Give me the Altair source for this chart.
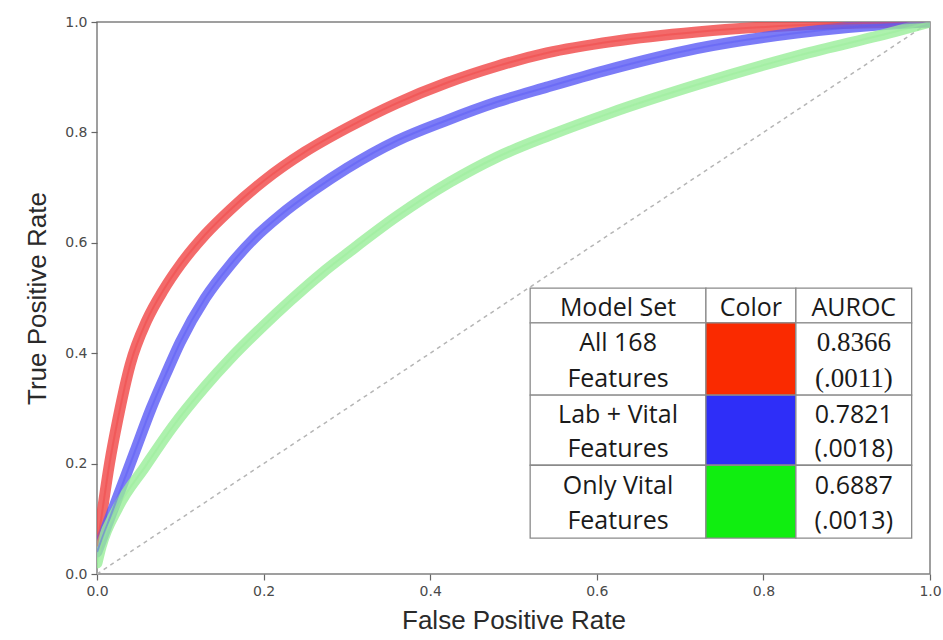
import altair as alt
import pandas as pd

# ---------------- data ----------------
models = ["All 168 Features", "Lab + Vital Features", "Only Vital Features"]
model_lines = [["All 168", "Features"], ["Lab + Vital", "Features"], ["Only Vital", "Features"]]
auroc = ["0.8366", "0.7821", "0.6887"]
auroc_sd = ["(.0011)", "(.0018)", "(.0013)"]

red_fpr = [0, 0.005, 0.015, 0.025, 0.04, 0.06, 0.08, 0.10, 0.13, 0.16, 0.20, 0.25, 0.30,
           0.36, 0.42, 0.48, 0.54, 0.62, 0.72, 0.84, 0.92, 1.0]
red_tpr = [0.05, 0.10, 0.20, 0.28, 0.38, 0.46, 0.515, 0.56, 0.615, 0.66, 0.712, 0.765, 0.808,
           0.853, 0.89, 0.92, 0.944, 0.965, 0.982, 0.994, 0.998, 1.0]

blue_fpr = [0, 0.01, 0.025, 0.045, 0.065, 0.085, 0.10, 0.13, 0.16, 0.19, 0.22, 0.26, 0.30,
            0.36, 0.42, 0.48, 0.54, 0.61, 0.72, 0.84, 0.95, 1.0]
blue_tpr = [0.04, 0.08, 0.14, 0.22, 0.30, 0.37, 0.42, 0.50, 0.56, 0.61, 0.65, 0.695, 0.735,
            0.785, 0.822, 0.855, 0.882, 0.912, 0.952, 0.980, 0.996, 1.0]

green_fpr = [0, 0.005, 0.025, 0.058, 0.09, 0.13, 0.16, 0.20, 0.232, 0.27, 0.304, 0.36,
             0.424, 0.48, 0.544, 0.616, 0.724, 0.844, 0.964, 1.0]
green_tpr = [0.02, 0.05, 0.12, 0.195, 0.265, 0.34, 0.39, 0.45, 0.495, 0.545, 0.585, 0.648,
             0.71, 0.755, 0.795, 0.835, 0.888, 0.94, 0.985, 1.0]

chance = [0.0, 1.0]
ticks = [0.0, 0.2, 0.4, 0.6, 0.8, 1.0]

# ---------------- styles ----------------
band_colors = ["#f04545", "#5a5af5", "#98ee98"]
core_colors = ["#e83030", "#3a3aee", "#2ecc2e"]
swatch_colors = ["#fa2a00", "#2e2ef8", "#10ee10"]

rows = []
for name, fx, fy in zip(models, [red_fpr, blue_fpr, green_fpr], [red_tpr, blue_tpr, green_tpr]):
    for a, b in zip(fx, fy):
        rows.append({"model": name, "fpr": a, "tpr": b})
curves = pd.DataFrame(rows)
diag = pd.DataFrame({"fpr": chance, "tpr": chance})

xs = alt.Scale(domain=[0, 1], nice=False, zero=False)
ys = alt.Scale(domain=[0, 1], nice=False, zero=False)

x_enc = alt.X("fpr:Q", scale=xs, axis=alt.Axis(values=ticks, format=".1f", title="False Positive Rate",
                                                titlePadding=9, labelFlush=False))
y_enc = alt.Y("tpr:Q", scale=ys, axis=alt.Axis(values=ticks, format=".1f", title="True Positive Rate",
                                                titlePadding=14, labelFlush=False))

base = alt.Chart(curves)
band = base.mark_line(strokeWidth=11, opacity=0.8, interpolate="monotone", strokeCap="round", clip=True).encode(
    x=x_enc, y=y_enc,
    color=alt.Color("model:N", scale=alt.Scale(domain=models, range=band_colors), legend=None),
    detail="model:N",
)
core = base.mark_line(strokeWidth=2, opacity=0.45, interpolate="monotone", clip=True).encode(
    x="fpr:Q", y="tpr:Q",
    color=alt.Color("model:N", scale=alt.Scale(domain=models, range=core_colors), legend=None),
    detail="model:N",
)
diag_line = alt.Chart(diag).mark_line(color="#b5b5b5", strokeWidth=1.5, strokeDash=[4, 4]).encode(
    x="fpr:Q", y="tpr:Q")

# ---------------- table (layout in data units of the plot) ----------------
col_edges = [0.520, 0.731, 0.839, 0.978]
row_edges = [0.518, 0.455, 0.324, 0.197, 0.065]
headers = ["Model Set", "Color", "AUROC"]

cells = []
for j in range(3):
    cells.append({"x": col_edges[j], "x2": col_edges[j + 1], "y": row_edges[0], "y2": row_edges[1], "fill": "#ffffff"})
for i in range(3):
    for j in range(3):
        fill = swatch_colors[i] if j == 1 else "#ffffff"
        cells.append({"x": col_edges[j], "x2": col_edges[j + 1], "y": row_edges[i + 1], "y2": row_edges[i + 2], "fill": fill})
cells = pd.DataFrame(cells)

table_cells = alt.Chart(cells).mark_rect(stroke="#8a8a8a", strokeWidth=1.3).encode(
    x="x:Q", x2="x2", y="y:Q", y2="y2", fill=alt.Fill("fill:N", scale=None))

sans_rows = []
serif_rows = []
for j, h in enumerate(headers):
    sans_rows.append({"x": (col_edges[j] + col_edges[j + 1]) / 2,
                      "y": row_edges[0] - (row_edges[0] - row_edges[1]) * 0.56, "t": h})
for i in range(3):
    top, bot = row_edges[i + 1], row_edges[i + 2]
    h = top - bot
    y1, y2 = top - h * 0.28, top - h * 0.77
    cx0 = (col_edges[0] + col_edges[1]) / 2
    cx2 = (col_edges[2] + col_edges[3]) / 2
    sans_rows.append({"x": cx0, "y": y1, "t": model_lines[i][0]})
    sans_rows.append({"x": cx0, "y": y2, "t": model_lines[i][1]})
    target = serif_rows if i == 0 else sans_rows
    target.append({"x": cx2, "y": y1, "t": auroc[i]})
    target.append({"x": cx2, "y": y2, "t": auroc_sd[i]})

text_sans = alt.Chart(pd.DataFrame(sans_rows)).mark_text(
    font="Open Sans", fontSize=25, color="#1a1a1a", align="center", baseline="middle").encode(
    x="x:Q", y="y:Q", text="t:N")
text_serif = alt.Chart(pd.DataFrame(serif_rows)).mark_text(
    font="Liberation Serif", fontSize=27, color="#1a1a1a",
    align="center", baseline="middle").encode(
    x="x:Q", y="y:Q", text="t:N")

chart = alt.layer(diag_line, band, core, table_cells, text_sans, text_serif).properties(
    width=833, height=552,
    padding={"left": 97, "top": 22, "right": 13, "bottom": 66},
    autosize="none",
    background="#ffffff",
).configure_view(
    stroke="#808080", strokeWidth=1.5
).configure_axis(
    grid=False, domain=False,
    tickColor="#666666", tickSize=6, tickWidth=1.2,
    labelFont="DejaVu Sans", labelFontSize=14, labelColor="#4a4a4a", labelPadding=4,
    titleFont="Liberation Sans", titleFontSize=26, titleFontWeight="normal", titleColor="#2a2a2a",
)

chart.save("out.html", embed_options={"renderer": "svg", "actions": False})
